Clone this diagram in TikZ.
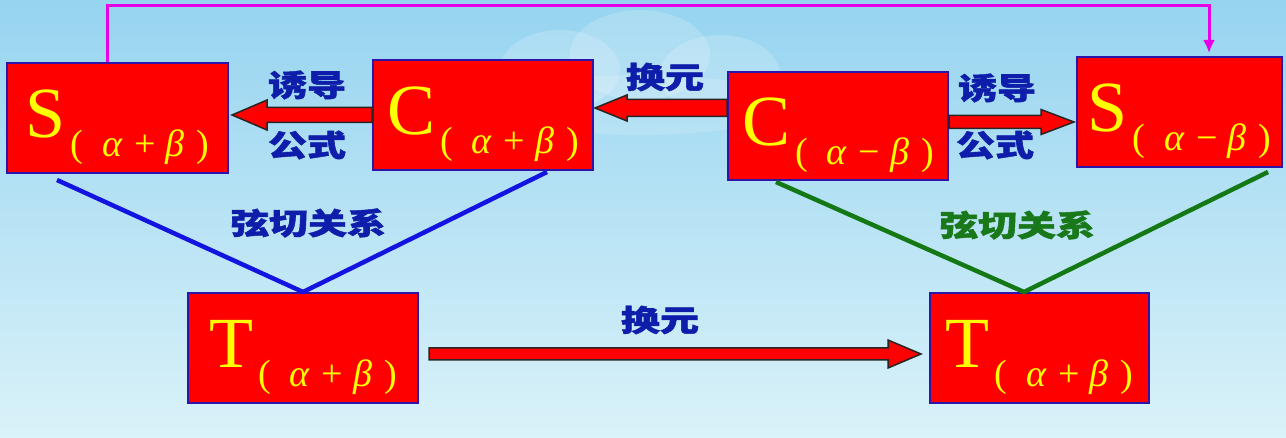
\documentclass[tikz,border=0pt]{standalone}
\usepackage{fontspec}
\usepackage{graphicx}
\setmainfont{Liberation Serif}
\newfontfamily\cjk{Noto Sans CJK SC}[BoldFeatures={FakeBold=1.5}]
\usetikzlibrary{calc,arrows.meta}
\definecolor{sky1}{RGB}{150,212,240}
\definecolor{sky2}{RGB}{218,242,249}
\definecolor{boxred}{RGB}{255,0,0}
\definecolor{boxedge}{RGB}{45,20,170}
\definecolor{txtyellow}{RGB}{255,255,0}
\definecolor{lblblue}{RGB}{15,30,170}
\definecolor{lblgreen}{RGB}{25,120,25}
\definecolor{linblue}{RGB}{20,20,225}
\definecolor{lingreen}{RGB}{20,120,20}
\definecolor{magline}{RGB}{230,0,230}
\newcommand{\hblockarrow}[5]{%
  \path[blockarrow] let \p1=#1, \p2=#2, \n1={sign(\x2-\x1)} in
  (\x1,\y1+#3) -- (\x2-\n1*#5,\y1+#3) -- (\x2-\n1*#5,\y1+#4) -- (\x2,\y1)
  -- (\x2-\n1*#5,\y1-#4) -- (\x2-\n1*#5,\y1-#3) -- (\x1,\y1-#3) -- cycle;}
% letter, operator
\newcommand{\fx}[2]{{\fontsize{72}{72}\selectfont #1}\hspace{5pt}\raisebox{-19pt}{\fontsize{38}{38}\selectfont
  (\hspace{19pt}{\itshape α}\hspace{12pt}#2\hspace{10pt}{\itshape β}\hspace{12pt})}\hspace{12pt}}
\tikzset{
  box/.style={draw=boxedge, line width=2pt, fill=boxred, inner sep=0pt,
    text=txtyellow, text height=60pt, text depth=20pt},
  blockarrow/.style={fill=boxred, draw=black!85, line width=1.5pt, line join=miter},
  lbl/.style={inner sep=0pt, text=lblblue, font=\cjk\bfseries\fontsize{30}{30}\selectfont},
  vline/.style={line width=4.5pt},
}
\begin{document}
\begin{tikzpicture}[x=1pt,y=-1pt]
\useasboundingbox (0,0) rectangle (1286,438);
\shade[top color=sky1, bottom color=sky2] (0,0) rectangle (1286,438);
% faint cloud
\fill[white, opacity=0.18] (560,70) ellipse (60 and 40);
\fill[white, opacity=0.18] (640,55) ellipse (70 and 45);
\fill[white, opacity=0.18] (720,75) ellipse (60 and 40);
\fill[white, opacity=0.15] (640,105) ellipse (150 and 30);

% boxes
\node[box, minimum width=221pt, minimum height=110pt] (s1) at (117.5,118) {\fx{S}{+}};
\node[box, minimum width=220pt, minimum height=110pt] (c1) at (483,115) {\fx{C}{+}};
\node[box, minimum width=220pt, minimum height=108pt] (c2) at (838,126) {\fx{C}{−}};
\node[box, minimum width=205pt, minimum height=110pt] (s2) at (1179.5,112) {\fx{S}{−}};
\node[box, minimum width=230pt, minimum height=110pt] (t1) at (303,348) {\fx{T}{+}};
\node[box, minimum width=219pt, minimum height=110pt] (t2) at (1039.5,348) {\fx{T}{+}};

% magenta connector
\draw[magline, line width=3pt, -{Latex[length=13pt,width=12pt]}, shorten >=3pt]
  ([xshift=-10.5pt]s1.north) -- ++(0,-56) -| ([xshift=29.5pt]s2.north);

% block arrows
\hblockarrow{(c1.west)}{([xshift=3pt]s1.east)}{7.5pt}{15pt}{35pt}
\hblockarrow{([yshift=18pt]c2.west)}{([xshift=1pt]c1.east)}{8.5pt}{13pt}{32pt}
\hblockarrow{([yshift=4pt]c2.east)}{([xshift=-2pt]s2.west)}{6.5pt}{12.5pt}{33pt}
\hblockarrow{([xshift=10pt,yshift=-6pt]t1.east)}{([xshift=-8pt]t2.west)}{6pt}{14pt}{33pt}

% V connectors
\coordinate (bl1) at (57,180);
\coordinate (bl2) at (547,172);
\coordinate (gl1) at (776,182);
\coordinate (gl2) at (1268,172);
\draw[vline, linblue] (bl1) -- (t1.north) -- (bl2);
\draw[vline, lingreen] (gl1) -- ([xshift=-15.5pt]t2.north) -- (gl2);

% labels
\node[lbl] (l1) at (307,85) {\scalebox{1.3}[1]{诱导}};
\node[lbl] (l2) at (307,145) {\scalebox{1.3}[1]{公式}};
\node[lbl] (l3) at (665,77) {\scalebox{1.3}[1]{换元}};
\node[lbl] (l4) at (997,88) {\scalebox{1.3}[1]{诱导}};
\node[lbl] (l5) at (995,145) {\scalebox{1.3}[1]{公式}};
\node[lbl] (l6) at (308,223) {\scalebox{1.3}[1]{弦切关系}};
\node[lbl, text=lblgreen] (l7) at (1017,225) {\scalebox{1.3}[1]{弦切关系}};
\node[lbl] (l8) at (660,320) {\scalebox{1.3}[1]{换元}};
\end{tikzpicture}
\end{document}
